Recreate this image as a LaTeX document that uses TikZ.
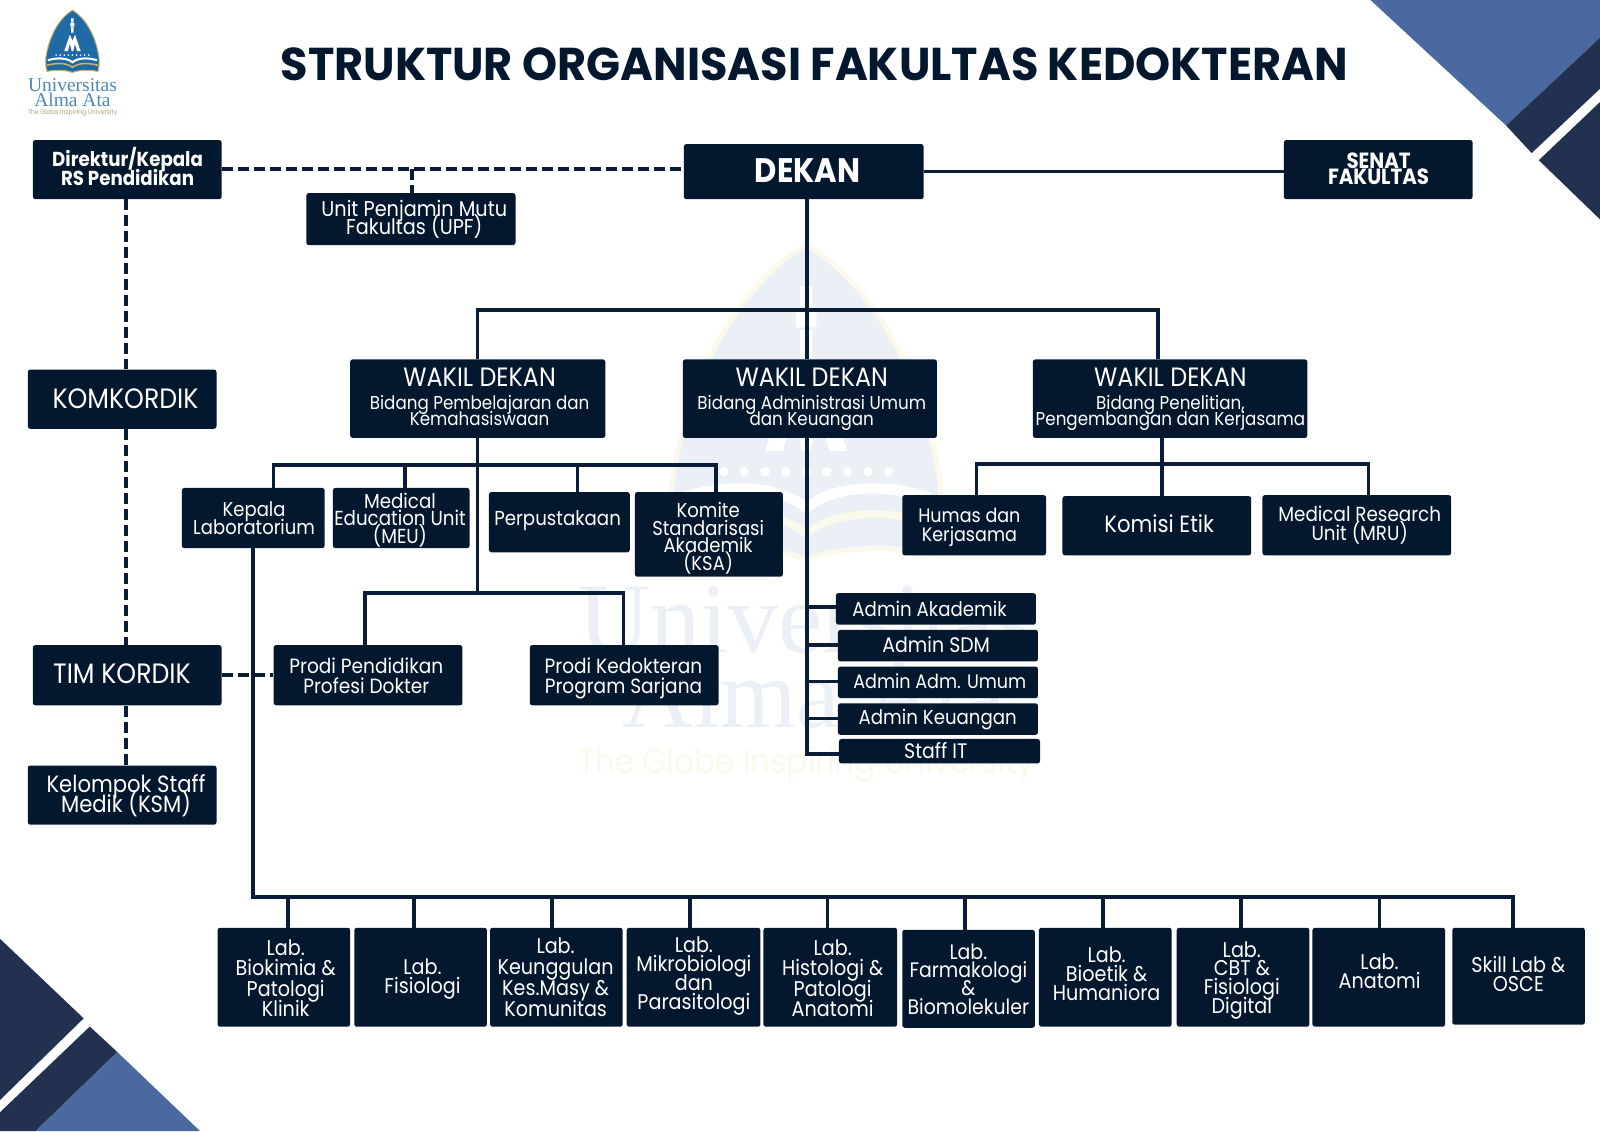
\documentclass[tikz,border=0pt]{standalone}
\usepackage{fontspec}
\usetikzlibrary{backgrounds,calc}
\setmainfont{Poppins}[FakeStretch=0.9]
\newfontfamily\ttl{Poppins}[FakeStretch=0.97]
\newfontfamily\srf{Liberation Serif}
\definecolor{navy}{HTML}{03172F}
\definecolor{lnc}{HTML}{0B1C36}
\definecolor{cblue}{HTML}{4A69A0}
\definecolor{cdark}{HTML}{22314F}
\definecolor{lgold}{HTML}{C9B36A}
\definecolor{lblue}{HTML}{1F6AA5}
\definecolor{wgold}{HTML}{FBF8EC}
\definecolor{wblue}{HTML}{EAF0F6}
\tikzset{
  box/.style={fill=navy,rounded corners=2.5pt,inner sep=0pt,anchor=north west},
  lbl/.style={text=white,align=center,inner sep=0pt},
  ln/.style={draw=lnc,line width=3.7pt},
  dsh/.style={draw=lnc,line width=4pt,dash pattern=on 11pt off 5pt},
  plain/.style={inner sep=0pt,align=center}
}
\newcommand\fs[2]{\fontsize{#1}{#2}\selectfont\lineskiplimit=-100pt\relax}
% name, x1, x2, y1, y2
\newcommand\bx[5]{%
  \pgfmathsetmacro\bw{(#3-#2)*1.0204}\pgfmathsetmacro\bh{(#5-#4)*1.0204}%
  \node[box,minimum width=\bw pt,minimum height=\bh pt] (#1) at (#2,#4) {};}
% name, cx, cy, size, leading, text
\newcommand\tx[6]{\node[lbl,font=\fs{#4}{#5}] (#1) at (#2,#3) {#6};}
% x, y, scale, gold, blue, white
\newcommand\shield[6]{%
 \begin{scope}[shift={(#1,#2)},scale=#3]
  \pgfmathsetmacro\lw{#3*1.02}
  \draw[draw=#4,line width=\lw pt,fill=#5,line join=round]
    (0,0) .. controls (-9,5) and (-22,20) .. (-26,46) .. controls (-26.5,52) and (-26,57) .. (-25,60)
    .. controls (-15,58) and (-5,59) .. (0,61) .. controls (5,59) and (15,58) .. (25,60)
    .. controls (26,57) and (26.5,52) .. (26,46) .. controls (22,20) and (9,5) .. (0,0) -- cycle;
  \fill[#6] (-1.2,8) rectangle (1.2,12) (-2,12.5) rectangle (2,16) (-1.2,16.5) rectangle (1.2,22);
  \fill[#6] (-8,40) -- (-2.5,24) -- (0,30) -- (2.5,24) -- (8,40) -- (4.5,40) -- (2.5,33) -- (0.8,40) -- (-0.8,40) -- (-2.5,33) -- (-4.5,40) -- cycle;
  \foreach \sx in {-16,-12,-8,-4,0,4,8,12,16} \fill[#6] (\sx,44) circle (0.9);
  \draw[#6,line width=2*\lw pt] (-24,49) .. controls (-14,46) and (-5,47) .. (0,51) .. controls (5,47) and (14,46) .. (24,49);
  \draw[#4,line width=1.5*\lw pt] (-25,54) .. controls (-14,51) and (-5,52) .. (0,56) .. controls (5,52) and (14,51) .. (25,54);
 \end{scope}}
\begin{document}
\begin{tikzpicture}[x=1.0204pt,y=-1.0204pt]
\useasboundingbox (0,0) rectangle (1568,1108.4);
\begin{scope}[on background layer]
\fill[white] (0,0) rectangle (1568,1108.4);
% corners
\fill[cblue] (1343,0) -- (1476,123) -- (1568,37) -- (1568,0) -- cycle;
\fill[cdark] (1476,123) -- (1568,37) -- (1568,87) -- (1501,150) -- cycle;
\fill[cdark] (1508,157) -- (1568,100) -- (1568,215) -- cycle;
\fill[cdark] (0,920) -- (82,998) -- (0,1078) -- cycle;
\fill[cdark] (88,1006) -- (115,1031) -- (35,1108.4) -- (0,1108.4) -- (0,1090) -- cycle;
\fill[cblue] (115,1031) -- (196,1108.4) -- (35,1108.4) -- cycle;
% watermark
\shield{790}{240}{5.05}{wgold}{wblue}{white}
\node[plain,text=wblue] (wm1) at (790,607) {\srf\fs{100}{100}Universitas};
\node[plain,text=wblue] (wm2) at (798,680) {\srf\fs{98}{98}Alma Ata};
\node[plain,text=wgold] (wm3) at (790,750) {\fs{34.6}{34.6}The Globe Inspiring University};
\end{scope}
% logo
\shield{71}{10}{1.0}{lgold}{lblue}{white}
\node[plain,text=lblue!80!white] (lg1) at (71,83.5) {\srf\fs{19.5}{19.5}Universitas};
\node[plain,text=lblue!80!white] (lg2) at (71,98) {\srf\fs{19.5}{19.5}Alma Ata};
\node[plain,text=lgold!70!gray] (lg3) at (71,110.5) {\fs{6.8}{6.8}The Globe Inspiring University};
% title
\node[plain,text=navy] (title) at (798,63) {\ttl\bfseries\fs{46}{46}STRUKTUR ORGANISASI FAKULTAS KEDOKTERAN};
% boxes
\bx{dir}{32}{217}{137}{195}
\bx{upf}{300}{505}{189}{240}
\bx{dekan}{670}{905}{141}{195}
\bx{senat}{1258}{1443}{137}{195}
\bx{kom}{27}{212}{362}{420}
\bx{wd1}{343}{593}{352}{429}
\bx{wd2}{669}{918}{352}{429}
\bx{wd3}{1012}{1281}{352}{429}
\bx{keplab}{178}{318}{478}{537}
\bx{meu}{326}{460}{478}{537}
\bx{perp}{479}{617}{482}{541}
\bx{ksa}{622}{767}{482}{565}
\bx{humas}{884}{1025}{485}{544}
\bx{etik}{1041}{1226}{486}{544}
\bx{mru}{1237}{1422}{485}{544}
\bx{ak}{819}{1015}{581}{612}
\bx{sdm}{821}{1017}{617}{648}
\bx{um}{821}{1017}{653}{684}
\bx{keu}{821}{1017}{689}{720}
\bx{it}{822}{1019}{724}{748}
\bx{tim}{32}{217}{632}{691}
\bx{ppd}{268}{453}{632}{691}
\bx{pk}{519}{704}{632}{691}
\bx{ksm}{27}{212}{750}{808}
\bx{la}{213}{343}{909}{1006}
\bx{lb}{347}{477}{909}{1006}
\bx{lc}{480}{610}{909}{1006}
\bx{ld}{614}{745}{909}{1006}
\bx{le}{748}{879}{909}{1006}
\bx{lf}{884}{1014}{911}{1007}
\bx{lg}{1018}{1148}{909}{1006}
\bx{lh}{1153}{1283}{909}{1006}
\bx{li}{1286}{1416}{909}{1006}
\bx{lj}{1423}{1553}{909}{1004}
% labels
\tx{tdir}{125}{163}{20.2}{18.5}{\bfseries Direktur/Kepala\\\bfseries RS Pendidikan}
\tx{tupf}{406}{215}{21.4}{18.5}{Unit Penjamin Mutu\\Fakultas (UPF)}
\tx{tdekan}{791.5}{167}{34}{34}{\bfseries DEKAN}
\tx{tsenat}{1351}{165.5}{22}{16}{\bfseries SENAT\\\bfseries FAKULTAS}
\tx{tkom}{123}{391}{28}{28}{KOMKORDIK}
\tx{twd1}{470}{389}{18.6}{16}{\fs{26.5}{26.5}WAKIL DEKAN\\[7.5pt]Bidang Pembelajaran dan\\Kemahasiswaan}
\tx{twd2}{795.5}{391}{18.6}{16}{\fs{26.5}{26.5}WAKIL DEKAN\\[7pt]Bidang Administrasi Umum\\dan Keuangan}
\tx{twd3}{1147}{391}{18.6}{16}{\fs{26.5}{26.5}WAKIL DEKAN\\[7pt]Bidang Penelitian,\\Pengembangan dan Kerjasama}
\tx{tkeplab}{249}{508}{20}{18}{Kepala\\Laboratorium}
\tx{tmeu}{392}{509.5}{20.3}{17.7}{Medical\\Education Unit\\(MEU)}
\tx{tperp}{546.5}{510}{20.2}{18}{Perpustakaan}
\tx{tksa}{694}{527.5}{20}{17.7}{Komite\\Standarisasi\\Akademik\\(KSA)}
\tx{thumas}{950}{517}{19.5}{18.5}{Humas dan\\Kerjasama}
\tx{tetik}{1136}{513}{23.5}{23.5}{Komisi Etik}
\tx{tmru}{1332.5}{515}{20.4}{19}{Medical Research\\Unit (MRU)}
\tx{tak}{911}{597}{20.2}{20}{Admin Akademik}
\tx{tsdm}{917.5}{632}{21}{21}{Admin SDM}
\tx{tum}{921}{668}{19.5}{20}{Admin Adm. Umum}
\tx{tkeu}{919}{705.5}{20.2}{20}{Admin Keuangan}
\tx{tit}{917}{736}{21}{21}{Staff IT}
\tx{ttim}{119.5}{660}{28}{28}{TIM KORDIK}
\tx{tppd}{359}{662}{20.6}{20}{Prodi Pendidikan\\Profesi Dokter}
\tx{tpk}{611}{665}{20.6}{20}{Prodi Kedokteran\\Program Sarjana}
\tx{tksm}{123.5}{780}{23.5}{20}{Kelompok Staff\\Medik (KSM)}
\tx{tla}{280}{958.5}{21.3}{20.3}{Lab.\\Biokimia \&\\Patologi\\Klinik}
\tx{tlb}{414}{959.5}{21.3}{19}{Lab.\\Fisiologi}
\tx{tlc}{544.5}{957.5}{21.3}{21}{Lab.\\Keunggulan\\Kes.Masy \&\\Komunitas}
\tx{tld}{680}{956.5}{21.3}{18.7}{Lab.\\Mikrobiologi\\dan\\Parasitologi}
\tx{tle}{816}{958.5}{21.3}{20.3}{Lab.\\Histologi \&\\Patologi\\Anatomi}
\tx{tlf}{949}{959.5}{21}{18.3}{Lab.\\Farmakologi\\\&\\Biomolekuler}
\tx{tlg}{1084.5}{954}{21.3}{19}{Lab.\\Bioetik \&\\Humaniora}
\tx{tlh}{1217}{960.5}{21.3}{18.7}{Lab.\\CBT \&\\Fisiologi\\Digital}
\tx{tli}{1352}{951.5}{21.3}{19}{Lab.\\Anatomi}
\tx{tlj}{1488}{954.5}{21.3}{19}{Skill Lab \&\\OSCE}
% connectors
\begin{scope}[on background layer]
\draw[dsh] (dir.east |- 0,166) -- (dekan.west |- 0,166);
\draw[dsh] (404,166) -- (404,0 |- upf.north);
\draw[ln] (dekan.east |- 0,168) -- (senat.west |- 0,168);
\draw[ln] (791,0 |- dekan.south) -- (791,0 |- wd2.north);
\draw[ln] (468,0 |- wd1.north) -- (468,304) -- (1135,304) -- (1135,0 |- wd3.north);
\draw[ln] (791,0 |- wd2.south) -- (791,739) -- (it.west |- 0,739);
\draw[ln] (791,595) -- (ak.west |- 0,595);
\draw[ln] (791,632) -- (sdm.west |- 0,632);
\draw[ln] (791,668) -- (um.west |- 0,668);
\draw[ln] (791,704) -- (keu.west |- 0,704);
\draw[ln] (468,0 |- wd1.south) -- (468,581);
\draw[ln] (268,0 |- keplab.north) -- (268,456) -- (702,456) -- (702,0 |- ksa.north);
\draw[ln] (397,456) -- (397,0 |- meu.north);
\draw[ln] (566,456) -- (566,0 |- perp.north);
\draw[ln] (358,0 |- ppd.north) -- (358,581) -- (611,581) -- (611,0 |- pk.north);
\draw[ln] (1139,0 |- wd3.south) -- (1139,0 |- etik.north);
\draw[ln] (957,0 |- humas.north) -- (957,455) -- (1341,455) -- (1341,0 |- mru.north);
\draw[dsh] (123,0 |- dir.south) -- (123,0 |- kom.north);
\draw[dsh] (123,0 |- kom.south) -- (123,0 |- tim.north);
\draw[dsh] (123,0 |- tim.south) -- (123,0 |- ksm.north);
\draw[dsh] (tim.east |- 0,661) -- (ppd.west |- 0,661);
\draw[ln] (248,0 |- keplab.south) -- (248,879) -- (1483,879) -- (1483,0 |- lj.north);
\draw[ln] (282,879) -- (282,0 |- la.north);
\draw[ln] (406,879) -- (406,0 |- lb.north);
\draw[ln] (541,879) -- (541,0 |- lc.north);
\draw[ln] (676,879) -- (676,0 |- ld.north);
\draw[ln] (811,879) -- (811,0 |- le.north);
\draw[ln] (946,879) -- (946,0 |- lf.north);
\draw[ln] (1081,879) -- (1081,0 |- lg.north);
\draw[ln] (1216,879) -- (1216,0 |- lh.north);
\draw[ln] (1352,879) -- (1352,0 |- li.north);
\end{scope}
\end{tikzpicture}
\end{document}
